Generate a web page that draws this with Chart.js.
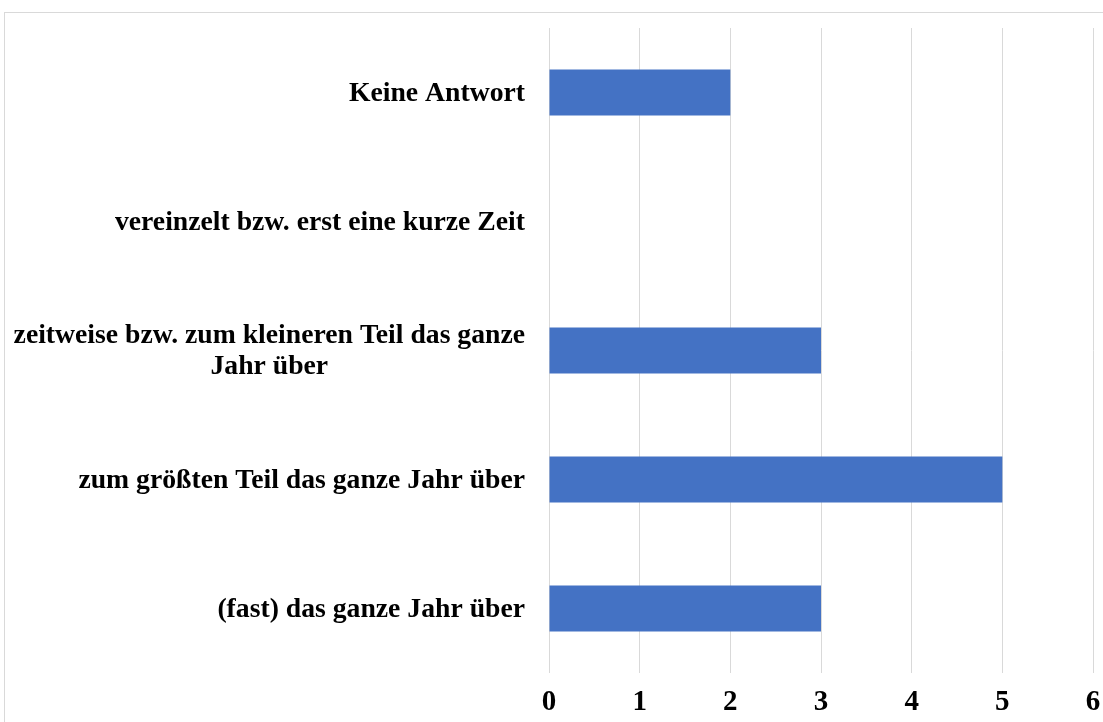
<!DOCTYPE html>
<html>
<head>
<meta charset="utf-8">
<script src="https://cdn.jsdelivr.net/npm/chart.js@4"></script>
<style>
  body { margin: 0; background: #fff; overflow: hidden; }
  #wrap { position: relative; width: 1103px; height: 722px; }
  #frame { position: absolute; left: 4px; top: 12px; width: 1200px; height: 800px; border: 1px solid #d9d9d9; }
  canvas { position: absolute; left: 0; top: 0; }
</style>
</head>
<body>
<div id="wrap">
  <div id="frame"></div>
  <canvas id="myChart" width="1103" height="722"></canvas>
</div>
<script>
const ctx = document.getElementById('myChart');

const kategorien = [
    ['Keine Antwort'],
    ['vereinzelt bzw. erst eine kurze Zeit'],
    ['zeitweise bzw. zum kleineren Teil das ganze', 'Jahr über'],
    ['zum größten Teil das ganze Jahr über'],
    ['(fast) das ganze Jahr über']
]
const werte = [2, 0, 3, 5, 3]
const xTicks = [0, 1, 2, 3, 4, 5, 6]

const schrift = '"Liberation Serif", "Times New Roman", serif'

// Beschriftungen links: Block rechtsbündig, Zeilen im Block zentriert
const labelPlugin = {
    id: 'labelPlugin',
    afterDraw(chart) {
        const c = chart.ctx
        const y = chart.scales.y
        c.save()
        c.font = 'bold 27.7px ' + schrift
        c.fillStyle = '#000'
        c.textBaseline = 'middle'
        c.textAlign = 'center'
        const rechts = 525
        const zeilenH = 31
        kategorien.forEach((lines, i) => {
            const yc = y.getPixelForTick(i)
            const breit = Math.max(...lines.map(l => c.measureText(l).width))
            const mitte = rechts - breit / 2
            const start = yc - (lines.length - 1) * zeilenH / 2 + 1
            lines.forEach((l, j) => c.fillText(l, mitte, start + j * zeilenH))
        })
        c.restore()
    }
}

new Chart(ctx, {
    type: 'bar',
    data: {
        labels: kategorien,
        datasets: [{
            data: werte,
            backgroundColor: '#4472C4',
            borderWidth: 0,
            barPercentage: 0.357,
            categoryPercentage: 1
        }]
    },
    options: {
        indexAxis: 'y',
        responsive: false,
        animation: false,
        layout: { padding: { left: 541, right: 10, top: 28, bottom: 0 } },
        plugins: { legend: { display: false }, tooltip: { enabled: false } },
        scales: {
            x: {
                min: 0,
                max: 6,
                afterBuildTicks: (s) => { s.ticks = xTicks.map(v => ({ value: v })) },
                afterFit: (s) => { s.height = 49; s.paddingLeft = 0; s.paddingRight = 0 },
                grid: { color: '#d9d9d9', lineWidth: 1, drawTicks: false },
                border: { display: false },
                ticks: {
                    padding: 12,
                    color: '#000',
                    font: { family: schrift, size: 29, weight: 'bold' }
                }
            },
            y: {
                grid: { display: false },
                border: { display: false },
                ticks: { display: false }
            }
        }
    },
    plugins: [labelPlugin]
});
</script>
</body>
</html>
